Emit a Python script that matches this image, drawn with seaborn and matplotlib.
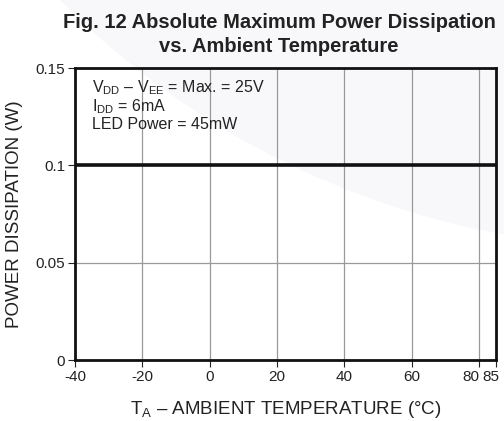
import matplotlib
matplotlib.use("Agg")
import matplotlib.pyplot as plt
from matplotlib.patches import Ellipse
from matplotlib.transforms import ScaledTranslation
import seaborn as sns
import pandas as pd

temperature = [-40, 85]
power = [0.1, 0.1]
x_ticks = [-40, -20, 0, 20, 40, 60, 80, 85]
y_ticks = [0, 0.05, 0.1, 0.15]
y_tick_labels = ["0", "0.05", "0.1", "0.15"]

sns.set_style("white")
plt.rcParams['font.family'] = ['Liberation Sans', 'DejaVu Sans']
plt.rcParams['mathtext.fontset'] = 'custom'
plt.rcParams['mathtext.rm'] = 'Liberation Sans'

df = pd.DataFrame({"T": temperature, "P": power})

W, H = 504, 421
fig = plt.figure(figsize=(W/100, H/100), dpi=100)
# faint watermark shape in the background
fig.patches.append(Ellipse((653/W, 1+585/H), 2*833/W, 2*833/H, transform=fig.transFigure,
                           facecolor="#f8f7fa", edgecolor="none", zorder=-10))

ax = fig.add_axes([75/W, 1-360/H, 421/W, 292/H])
ax.patch.set_alpha(0)

ax.grid(True, color="#999999", linewidth=0.9)
ax.set_axisbelow(True)
sns.lineplot(data=df, x="T", y="P", ax=ax, color="#111111", linewidth=2.6)

ax.set_xlim(-40, 85)
ax.set_ylim(0, 0.15)
ax.set_xticks(x_ticks)
ax.set_xticklabels([str(t) for t in x_ticks])
ax.set_yticks(y_ticks)
ax.set_yticklabels(y_tick_labels)
ax.tick_params(axis="both", direction="out", length=5, width=0.8, colors="#222222",
               labelsize=11, labelcolor="#222222", pad=2,
               bottom=True, left=True)
for s in ax.spines.values():
    s.set_color("#111111")
    s.set_linewidth(2)

# small nudge so the close "80" and "85" labels do not touch or clip
xl = ax.get_xticklabels()
xl[-2].set_transform(xl[-2].get_transform() + ScaledTranslation(-8/100, 0, fig.dpi_scale_trans))
xl[-1].set_transform(xl[-1].get_transform() + ScaledTranslation(-5/100, 0, fig.dpi_scale_trans))

ax.set_xlabel(r"T$_{\mathregular{A}}$ – AMBIENT TEMPERATURE (°C)", fontsize=13.5, color="#222222", labelpad=11)
ax.set_ylabel("POWER DISSIPATION (W)", fontsize=13.5, color="#222222", labelpad=9)

ax.text(0.04, 0.965,
        "V$_{\\mathregular{DD}}$ – V$_{\\mathregular{EE}}$ = Max. = 25V\n"
        "I$_{\\mathregular{DD}}$ = 6mA\n"
        "LED Power = 45mW",
        transform=ax.transAxes, va="top", ha="left", fontsize=11.5, color="#222222",
        linespacing=1.05)

fig.text(279/W, 1-22/H, "Fig. 12 Absolute Maximum Power Dissipation",
         ha="center", va="center", fontsize=14.5, fontweight="bold", color="#222222")
fig.text(279/W, 1-46/H, "vs. Ambient Temperature",
         ha="center", va="center", fontsize=14.5, fontweight="bold", color="#222222")

fig.savefig("out.png", dpi=100)
